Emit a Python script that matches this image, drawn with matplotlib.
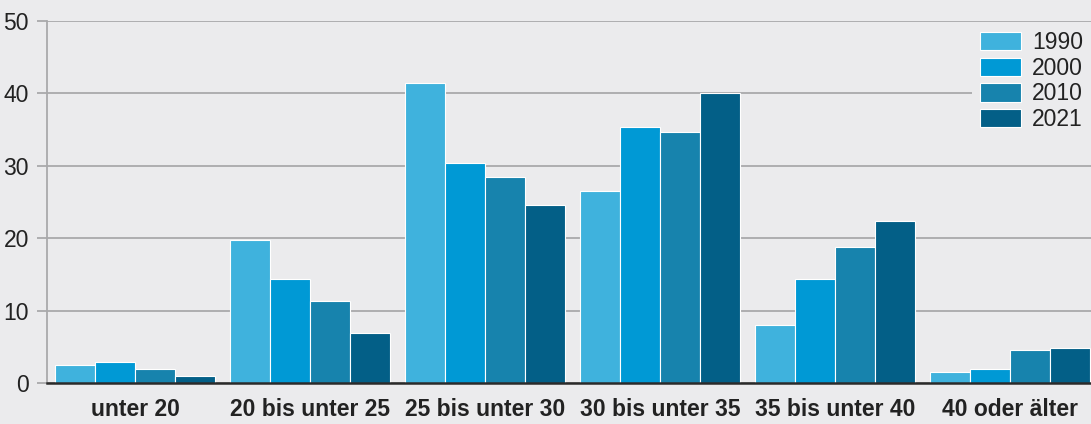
import numpy as np
import matplotlib
matplotlib.use("Agg")
import matplotlib.pyplot as plt

categories = ["unter 20", "20 bis unter 25", "25 bis unter 30",
              "30 bis unter 35", "35 bis unter 40", "40 oder älter"]
years = ["1990", "2000", "2010", "2021"]
v1990 = [2.5, 19.7, 41.4, 26.5, 8.0, 1.5]
v2000 = [2.9, 14.4, 30.4, 35.4, 14.4, 2.0]
v2010 = [2.0, 11.3, 28.4, 34.6, 18.8, 4.5]
v2021 = [0.9, 6.9, 24.6, 40.0, 22.4, 4.8]
colors = ["#3fb2dd", "#0099d5", "#1783ad", "#035f87"]

bg = "#ebebed"
plt.rcParams["font.family"] = ["Liberation Sans", "DejaVu Sans"]

fig = plt.figure(figsize=(10.91, 4.24), dpi=100, facecolor=bg)
ax = fig.add_axes([47 / 1091, 1 - 383 / 424, 1 - 47 / 1091, (383 - 21) / 424])
ax.set_facecolor(bg)

x = np.arange(len(categories))
w = 40 / 175
series = [v1990, v2000, v2010, v2021]
for i, (vals, yr) in enumerate(zip(series, years)):
    ax.bar(x + (i - 1.5) * w, vals, width=w, color=colors[i], label=yr,
           edgecolor="white", linewidth=0.8, zorder=3)

ax.set_ylim(0, 50)
ax.set_xlim(-0.503, 5.463)
ax.set_yticks([0, 10, 20, 30, 40, 50])
ax.yaxis.grid(True, color="#a9a9ab", linewidth=1.3, zorder=0)
ax.set_axisbelow(True)
ax.tick_params(axis="y", length=7, color="#a9a9ab", width=1.3, labelsize=16.5,
               labelcolor="#222222", pad=6)
ax.set_xticks(x)
ax.set_xticklabels(categories, fontsize=16.5, fontweight="bold", color="#222222")
ax.tick_params(axis="x", length=0, pad=11)

for s in ["top", "right"]:
    ax.spines[s].set_visible(False)
ax.spines["left"].set_color("#a9a9ab")
ax.spines["left"].set_linewidth(1.3)
ax.spines["bottom"].set_color("#2a2a2a")
ax.spines["bottom"].set_linewidth(1.8)
ax.spines["bottom"].set_zorder(4)

leg = ax.legend(loc="upper right", bbox_to_anchor=(1.0, 0.995), fontsize=16.5,
                frameon=True, facecolor=bg, edgecolor=bg, framealpha=1,
                handlelength=1.75, handleheight=0.85, labelspacing=0.12,
                handletextpad=0.5, borderpad=0.35, borderaxespad=0.0)
leg.get_frame().set_linewidth(0)
for t in leg.get_texts():
    t.set_color("#222222")

fig.savefig("out.png", dpi=100, facecolor=bg)
